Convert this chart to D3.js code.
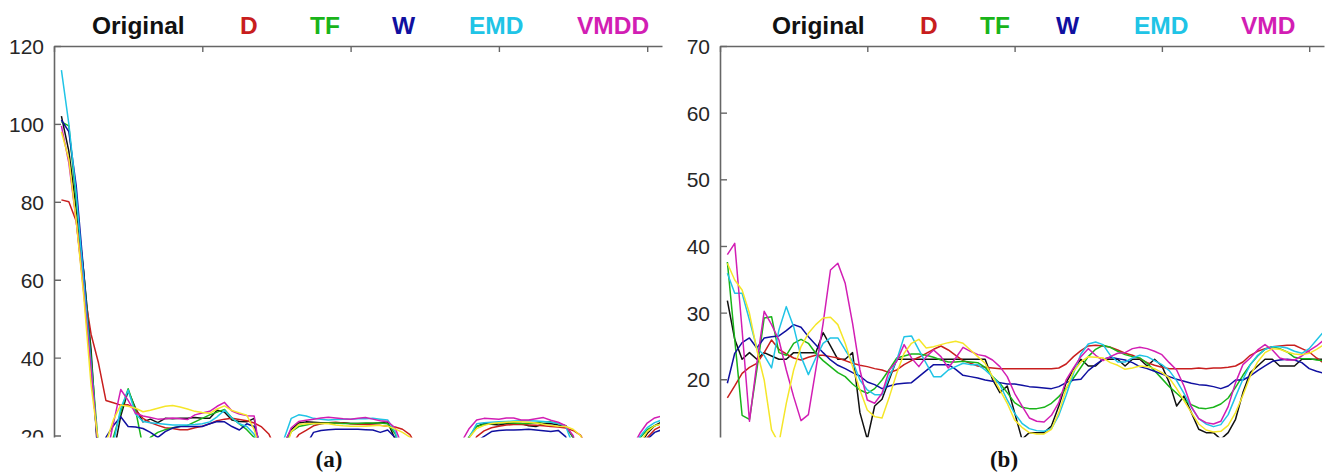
<!DOCTYPE html>
<html>
<head>
<meta charset="utf-8">
<script src="https://cdn.jsdelivr.net/npm/d3@7"></script>
<style>
  html, body { margin: 0; padding: 0; background: #fff; }
  svg { display: block; }
  .tick text { font-family: "Liberation Sans", Arial, sans-serif; font-size: 21px; fill: #262626; }
  .legend text { font-family: "Liberation Sans", Arial, sans-serif; font-size: 24.5px; font-weight: bold; }
  .caption { font-family: "Liberation Serif", "DejaVu Serif", serif; font-size: 23px; font-weight: bold; fill: #111; }
</style>
</head>
<body>
<script>
// Sample index of every series: 1 .. 82
const steps = d3.range(1, 83);

// Top-axis tick positions (in samples) and y tick values of both panels
const xTicks = [0, 20, 40, 60, 80];
const yTicksA = [20, 40, 60, 80, 100, 120];
const yTicksB = [20, 30, 40, 50, 60, 70];

// Legend labels of both panels
const legendA = ["Original", "D", "TF", "W", "EMD", "VMDD"];
const legendB = ["Original", "D", "TF", "W", "EMD", "VMD"];
const seriesColors = ["#111111", "#c81e1e", "#19b419", "#1010a0", "#20c4e6", "#d21eb4", "#f5e629"];

// Panel (a) series
const origA = [102, 93, 78, 62, 42, 12, 8, 15, 25, 31.5,
  27, 23.5, 24.2, 23.3, 24.4, 24.3, 24.4, 24.4, 24.6, 24.4,
  24.4, 26.5, 26, 24, 23.6, 23.5, 24.4, 12, 8, 7,
  18, 21.5, 23.2, 23.5, 23.4, 23.3, 23.3, 23.3, 23.3, 23.1,
  23.1, 23.1, 23.1, 23.3, 23.5, 19, 15, 11, 9, 8,
  8, 9, 10, 13, 17, 19.5, 22.3, 23.1, 22.9, 22.7,
  23, 23.1, 23.1, 22.5, 22.3, 23, 23.1, 22.7, 22.5, 19.5,
  15, 11, 9, 8, 8, 9, 12, 16, 17.5, 20.5,
  22.5, 23.5];
const dA = [80.5, 80, 75, 58, 46, 38.6, 29, 28.4, 27.8, 27.9,
  26.5, 24.4, 23.3, 22.6, 22, 21.8, 21.5, 21.5, 22, 22.4,
  23, 23.8, 24.2, 24.4, 24.1, 23.8, 23.2, 22.2, 20.3, 16,
  14, 17.5, 20.2, 21.3, 22.5, 23, 23.3, 23.4, 23.2, 23,
  22.9, 22.8, 22.7, 22.6, 22.4, 22.2, 21.6, 20.2, 17, 13,
  11, 10, 10, 11, 13, 16, 19.7, 21.2, 22, 22.4,
  22.7, 22.8, 22.8, 22.7, 22.6, 22.5, 22.3, 22.2, 21.9, 21.3,
  20.1, 17, 13, 11, 10, 10, 11, 13, 16, 19.5,
  21.5, 22.5];
const tfA = [100.5, 99.5, 80, 62, 40, 17, 15, 19.5, 26, 32,
  26.5, 17, 19.5, 20.8, 21.5, 22, 22.3, 22.6, 23.5, 24.4,
  25.3, 26, 26.7, 24.5, 23, 21.5, 19.5, 15, 11, 9,
  17, 21, 22.3, 22.7, 23.1, 23.1, 23.2, 23.2, 23.1, 23.1,
  23.1, 23.2, 23.2, 23.2, 23, 20.5, 15, 11, 9, 8,
  8, 9, 11, 14, 17, 19.7, 22.3, 22.8, 23, 23.2,
  23.3, 23.2, 23.1, 23.1, 23.3, 23.5, 23.5, 23.1, 22.5, 19.5,
  15, 11, 9, 8, 8, 10, 13, 17, 19.3, 21.5,
  22.5, 23];
const wA = [101, 98, 84, 62, 38, 15, 19.5, 22.5, 24.8, 22.3,
  22.2, 21.8, 20.8, 19.5, 21, 21.9, 22.3, 22.3, 22.3, 22.3,
  23, 23.6, 23.5, 22.3, 21.4, 23, 22.3, 17, 12, 9,
  8, 9, 12, 17.5, 20.8, 21.3, 21.5, 21.6, 21.6, 21.6,
  21.6, 21.5, 21.4, 20.8, 21.4, 19.5, 15, 11, 9, 8,
  8, 8, 9, 11, 14, 17, 18.5, 19.8, 21, 21.3,
  21.4, 21.4, 21.5, 21.6, 21.4, 21.2, 21, 21.3, 19.7, 15,
  11, 9, 8, 8, 9, 11, 14, 16, 17.5, 19,
  20.8, 21.5];
const emdA = [113.8, 100, 82, 60, 38, 16, 14, 18, 27, 31.7,
  25.5, 23.6, 23.3, 23.1, 22.9, 22.7, 22.7, 22.7, 22.8, 23,
  23.5, 24.8, 26.5, 24.5, 23, 22.3, 20.3, 15, 11, 12,
  19, 24.4, 25.3, 25, 24.4, 24.2, 24, 24.1, 24.2, 24.2,
  24.3, 24.3, 24.4, 24.2, 24, 21, 15, 11, 9, 8,
  8, 9, 11, 14, 17, 19.5, 23, 23.3, 23.4, 23.5,
  23.6, 23.7, 23.8, 23.8, 23.7, 23.6, 23.4, 23.1, 22.4, 17.5,
  14, 11, 9, 8, 8, 10, 13, 16, 19.7, 22,
  23.3, 24];
const vmdA = [99.5, 90, 75, 57, 37, 16, 14, 23, 31.8, 29,
  25.7, 25, 24.6, 24.2, 24.3, 24.5, 24.3, 24.1, 25.3, 25.8,
  26.2, 27.5, 28.5, 26.3, 25.5, 25.1, 25, 13, 10, 11,
  17.5, 22, 23.6, 23.9, 24.2, 24.5, 24.7, 24.5, 24.3, 24.2,
  24.4, 24.6, 24.2, 23.8, 23.6, 22, 17, 12, 9, 8,
  8, 9, 11, 14, 18.5, 21.8, 24, 24.4, 24.3, 24.2,
  24.5, 24.5, 24, 24, 24.3, 24.6, 23.9, 23.4, 22.5, 20,
  15, 11, 9, 8, 8, 10, 13, 17, 20.5, 23.2,
  24.5, 25];
const extraA = [98, 91, 75, 56, 33, 18, 18, 24, 27.8, 27.5,
  27, 26.1, 26.5, 27, 27.5, 27.7, 27.3, 26.8, 26.2, 25.9,
  25.7, 26.8, 27.6, 26.4, 25.8, 25.2, 21.5, 15, 10, 10,
  15, 21, 22.8, 23, 23.1, 23.1, 23, 22.7, 22.5, 22.4,
  22.4, 22.4, 22.5, 22.6, 22.4, 21.7, 20.8, 19.6, 15, 11,
  9, 9, 10, 13, 16, 19.5, 21.8, 22.6, 23.1, 23.3,
  23.4, 23.5, 23.5, 23.4, 23.2, 22.9, 22.6, 22.4, 22.3, 21.6,
  20, 16, 11, 9, 9, 10, 12, 15, 18, 21,
  22.5, 23];

// Panel (b) series
const origB = [31.8, 26, 23, 24, 23, 24, 23.5, 23, 23, 24,
  24, 24, 24, 27, 25, 23, 23, 24, 15, 11,
  16, 17, 20, 23, 23, 23, 23, 23, 23, 23,
  23, 23, 23, 23, 23, 23, 20, 18, 19, 15,
  11, 12, 12, 12, 13, 16, 19.5, 21.5, 23, 22,
  22, 23, 23, 23, 22, 23, 23, 22, 23, 22,
  19.5, 16, 17.5, 15, 12.5, 12, 12, 11, 12, 14,
  18, 21, 22, 23, 23, 22, 22, 22, 23, 23,
  23, 23];
const dB = [17.2, 19, 20.9, 21.8, 22.4, 24, 25.9, 24.5, 23.8, 23.2,
  22.9, 23.3, 23.6, 23.6, 23.4, 23.2, 22.8, 22.4, 22.1, 21.9,
  21.6, 21.4, 21, 21.4, 22.2, 22.8, 23.3, 23.9, 24.5, 25,
  24.4, 23.6, 22.8, 22.4, 22, 21.8, 21.7, 21.6, 21.6, 21.6,
  21.6, 21.6, 21.6, 21.6, 21.6, 21.7, 22.3, 23.4, 24.3, 25,
  25.1, 25, 24.8, 24.4, 23.9, 23.6, 23.1, 22.5, 22.1, 21.8,
  21.6, 21.6, 21.6, 21.6, 21.7, 21.6, 21.7, 21.7, 21.8, 22,
  22.6, 23.6, 24.2, 24.6, 24.9, 25, 25.1, 25.1, 24.6, 24.1,
  23.2, 22.4];
const tfB = [37.6, 26, 14.6, 14, 21.4, 29.2, 29.4, 24, 23.6, 25.4,
  26, 25.4, 23.9, 22.8, 21.9, 21, 20.4, 19.3, 18.4, 17.9,
  18.6, 19.9, 21.5, 23.2, 23.5, 23.8, 23.8, 23.6, 23.3, 22.9,
  22.6, 22.6, 22.7, 22.6, 22.5, 21.8, 20.4, 19.4, 18, 16.5,
  15.8, 15.6, 15.6, 15.8, 16.4, 17.4, 18.6, 20.2, 21.8, 23.4,
  24.5, 25.1, 24.8, 24.2, 23.7, 23.4, 23.2, 22.4, 21.3, 20.1,
  18.9, 17.9, 16.9, 16.2, 15.7, 15.6, 15.8, 16.3, 17.2, 18.8,
  20.6, 22.2, 23.5, 24.5, 24.9, 24.6, 24.1, 23.3, 23.1, 23.1,
  22.9, 22.8];
const wB = [19.4, 23.9, 25.5, 26.2, 24.7, 26.2, 26.4, 26.5, 27.3, 28.2,
  27.8, 26.4, 25.2, 24, 22.9, 22.1, 21.6, 21, 20.5, 19.6,
  19.2, 18.6, 19, 19.3, 19.4, 19.5, 20.4, 21.3, 22.2, 22.2,
  22.2, 21.5, 20.6, 20.4, 20.2, 19.9, 19.7, 19.5, 19.3, 19.3,
  19.1, 18.9, 18.8, 18.7, 18.6, 18.9, 19.5, 19.9, 20, 21.3,
  22.2, 23, 23.3, 23.1, 22.9, 22.5, 21.9, 21.6, 21.2, 20.8,
  20.4, 20, 19.7, 19.4, 19.2, 19.1, 18.9, 18.6, 19, 19.9,
  19.9, 20.5, 21.3, 22, 22.7, 22.9, 23, 22.9, 22.5, 21.6,
  21.2, 20.9];
const emdB = [35.9, 32.9, 32.9, 28.9, 24.7, 23.6, 21.7, 27.4, 30.9, 27.9,
  23.4, 20.7, 23.2, 25.4, 26.2, 26.2, 24.4, 22.7, 19.9, 18.4,
  17.7, 17.7, 20.4, 22.9, 26.4, 26.5, 24.4, 22.4, 20.4, 20.4,
  21.4, 21.9, 22.4, 22.2, 22.2, 21.4, 20.4, 19.2, 16.9, 14.9,
  13.4, 12.6, 12.3, 12.2, 12.6, 14.6, 17.6, 20.9, 23.8, 25.3,
  25.6, 25.2, 23.6, 22.6, 22.6, 23.2, 23.6, 23.4, 22.8, 22.2,
  21.3, 19.8, 17.9, 15.8, 14.1, 13.3, 12.9, 13.2, 14.7, 17.4,
  20, 22.2, 23.6, 24.5, 24.9, 24.9, 24.7, 24.2, 23.9, 24.6,
  25.9, 27.2];
const vmdB = [38.7, 40.4, 27.4, 13.7, 22.4, 30.2, 28.2, 25.9, 21.4, 17.4,
  13.8, 14.7, 21.4, 28.4, 36.4, 37.4, 34.4, 28.4, 21.4, 16.9,
  16.4, 17.9, 21.4, 22.7, 25.2, 23.2, 21.9, 23.4, 24.4, 23.4,
  21.7, 23.2, 24.8, 24.2, 23.7, 23.5, 22.9, 21.9, 20.4, 17.9,
  16, 14.2, 13.7, 13.6, 14.6, 16.5, 19.9, 21.7, 23.4, 24.6,
  23.6, 22.8, 23.4, 23.9, 24, 24.6, 24.8, 24.6, 24.2, 23.7,
  22.5, 21.4, 19, 15.9, 14.1, 13.5, 13.3, 13.7, 15.9, 19.5,
  22.2, 23.2, 24.4, 25.2, 24.4, 23.2, 22.9, 22.9, 23.5, 24.3,
  25, 25.9];
const extraB = [37.4, 34.9, 33.4, 29.9, 24.4, 19.9, 12.4, 10.4, 16.4, 21.4,
  24.9, 26.9, 28.2, 29.2, 29.3, 28.2, 25.4, 21.9, 18.4, 15.4,
  14.4, 14.2, 17.4, 20.9, 23.9, 25.4, 26, 24.7, 24.9, 25.2,
  25.5, 25.7, 25.4, 24.4, 23.4, 22.4, 20.4, 18.4, 16.4, 13.9,
  12.8, 12, 11.8, 11.8, 12.5, 15, 18.5, 21.2, 22.6, 23.4,
  23.3, 23.2, 22.5, 22.1, 21.5, 21.7, 22, 21.9, 21.6, 21,
  20.2, 18.6, 16.8, 15, 13.3, 12.4, 12.1, 12.2, 13.1, 15,
  17.6, 20.5, 22.6, 24, 24.6, 24.5, 24.1, 23.8, 23.7, 23.9,
  24.5, 25.2];

const W = 1329, H = 474;
const cropBottom = 437.5;   // the figure is cut just below the lowest visible tick

const svg = d3.select("body").append("svg")
  .attr("width", W).attr("height", H)
  .attr("viewBox", `0 0 ${W} ${H}`);

const defs = svg.append("defs");
defs.append("clipPath").attr("id", "crop")
  .append("rect").attr("x", 0).attr("y", 0).attr("width", W).attr("height", cropBottom);

const panels = [
  {
    id: "a", caption: "(a)", captionX: 329,
    x: d3.scaleLinear().domain([0, 80]).range([54, 647.2]),
    y: d3.scaleLinear().domain([20, 120]).range([435.5, 46]),
    right: 660, yTicks: yTicksA, legend: legendA,
    legendX: [92, 240, 310, 392, 469, 577],
    series: [origA, dA, tfA, wA, emdA, vmdA, extraA]
  },
  {
    id: "b", caption: "(b)", captionX: 1004,
    x: d3.scaleLinear().domain([0, 80]).range([720, 1309.2]),
    y: d3.scaleLinear().domain([20, 70]).range([379.3, 46]),
    right: 1322, yTicks: yTicksB, legend: legendB,
    legendX: [772, 920, 980, 1056, 1134, 1241],
    series: [origB, dB, tfB, wB, emdB, vmdB, extraB]
  }
];

const root = svg.append("g").attr("clip-path", "url(#crop)");

panels.forEach(p => {
  const x0 = p.x.range()[0];
  const yTop = p.y.range()[1];

  // plot-area clip for the traces
  defs.append("clipPath").attr("id", "plot-" + p.id)
    .append("rect")
    .attr("x", x0).attr("y", yTop)
    .attr("width", p.right - x0).attr("height", cropBottom - yTop);

  const line = d3.line()
    .x((d, i) => p.x(steps[i]))
    .y(d => p.y(d));

  const traces = root.append("g").attr("clip-path", `url(#plot-${p.id})`);
  p.series.forEach((s, k) => {
    traces.append("path")
      .datum(s)
      .attr("d", line)
      .attr("fill", "none")
      .attr("stroke", seriesColors[k])
      .attr("stroke-width", 1.5)
      .attr("stroke-linejoin", "round");
  });

  // left axis, extended past the crop so its line runs to the cut edge
  const yAxisScale = p.y.copy()
    .domain([p.y.invert(cropBottom + 4), p.y.domain()[1]])
    .range([cropBottom + 4, yTop]);
  const yAxis = root.append("g")
    .attr("transform", `translate(${x0},0)`)
    .call(d3.axisLeft(yAxisScale).tickValues(p.yTicks)
      .tickSize(-7).tickSizeOuter(0).tickPadding(10));

  // top axis with inward ticks, no labels
  const xAxisScale = p.x.copy()
    .domain([0, p.x.invert(p.right + 2)])
    .range([x0, p.right + 2]);
  const xAxis = root.append("g")
    .attr("transform", `translate(0,${yTop})`)
    .call(d3.axisTop(xAxisScale).tickValues(xTicks)
      .tickSize(-6).tickSizeOuter(0).tickFormat(""));

  [yAxis, xAxis].forEach(g => {
    g.select(".domain").attr("stroke", "#666").attr("stroke-width", 1.6);
    g.selectAll(".tick line").attr("stroke", "#666").attr("stroke-width", 1.4);
  });
  yAxis.selectAll(".tick text").attr("dy", "0.36em");

  // legend row above the panel
  const legend = svg.append("g").attr("class", "legend");
  p.legend.forEach((name, k) => {
    legend.append("text")
      .attr("x", p.legendX[k]).attr("y", 34)
      .attr("fill", seriesColors[k])
      .text(name);
  });

  svg.append("text")
    .attr("class", "caption")
    .attr("x", p.captionX).attr("y", 467)
    .attr("text-anchor", "middle")
    .text(p.caption);
});
</script>
</body>
</html>
